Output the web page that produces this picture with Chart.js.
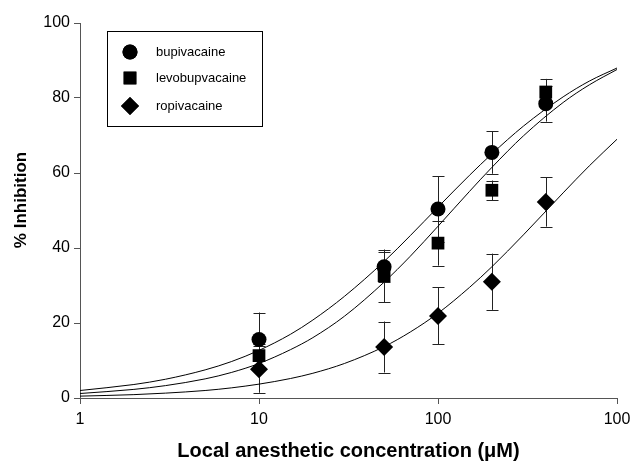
<!DOCTYPE html>
<html>
<head>
<meta charset="utf-8">
<script src="https://cdn.jsdelivr.net/npm/chart.js@4/dist/chart.umd.min.js"></script>
<style>
  html, body { margin: 0; padding: 0; background: #fff; }
  #wrap { width: 633px; height: 463px; }
</style>
</head>
<body>
<div id="wrap"><canvas id="myChart" width="633" height="463"></canvas></div>
<script>
// measured points (uM), mean % inhibition and error bar half-lengths
const concentrations = [10, 50, 100, 200, 400];
const bupivacaine = [15.6, 35.0, 50.4, 65.5, 78.5];
const bupivacaineErr = [7.2, 4.0, 8.8, 5.7, 4.8];
const levobupivacaine = [11.3, 32.6, 41.3, 55.4, 81.6];
const levobupivacaineErr = [3.0, 7.0, 6.0, 2.6, 3.5];
const ropivacaine = [7.7, 13.6, 21.9, 31.0, 52.3];
const ropivacaineErr = [6.3, 6.8, 7.6, 7.5, 6.6];

// fitted curves
const curveX = [1, 2, 3, 5, 7, 10, 15, 20, 30, 50, 70, 100, 150, 200, 300, 500, 700, 1000];
const bupCurve = [2.0, 3.6, 5.0, 7.5, 9.7, 12.7, 17.0, 20.8, 27.1, 36.4, 43.3, 50.9, 59.4, 65.1, 72.5, 80.3, 84.5, 88.0];
const levoCurve = [1.2, 2.3, 3.3, 5.1, 6.8, 9.2, 12.9, 16.1, 21.8, 30.9, 37.8, 45.8, 55.1, 61.5, 69.9, 78.8, 83.5, 87.6];
const ropiCurve = [0.5, 0.9, 1.3, 2.0, 2.7, 3.7, 5.2, 6.6, 9.2, 13.7, 17.6, 22.6, 29.5, 35.0, 43.5, 54.7, 61.9, 69.0];

const xTicks = [1, 10, 100, 1000];
const xTickLabels = ['1', '10', '100', '100'];
const yTicks = [0, 20, 40, 60, 80, 100];

const seriesNames = ['bupivacaine', 'levobupvacaine', 'ropivacaine'];
const yTitle = '% Inhibition';

const FONT = 'Arial, "Liberation Sans", sans-serif';

const pts = (xs, ys) => xs.map((x, i) => ({x: x, y: ys[i]}));

const errors = [bupivacaineErr, levobupivacaineErr, ropivacaineErr];

const errorBars = {
  id: 'errorBars',
  beforeDatasetsDraw(chart) {
    const ctx = chart.ctx;
    const xs = chart.scales.x, ys = chart.scales.y;
    ctx.save();
    ctx.strokeStyle = '#222';
    ctx.lineWidth = 1;
    errors.forEach((errs, d) => {
      const vals = chart.data.datasets[d].data;
      vals.forEach((p, i) => {
        const px = Math.round(xs.getPixelForValue(p.x)) + 0.5;
        const top = ys.getPixelForValue(p.y + errs[i]);
        const bot = ys.getPixelForValue(p.y - errs[i]);
        ctx.beginPath();
        ctx.moveTo(px, top); ctx.lineTo(px, bot);
        ctx.moveTo(px - 6, Math.round(top) + 0.5); ctx.lineTo(px + 6, Math.round(top) + 0.5);
        ctx.moveTo(px - 6, Math.round(bot) + 0.5); ctx.lineTo(px + 6, Math.round(bot) + 0.5);
        ctx.stroke();
      });
    });
    ctx.restore();
  }
};

const legendBox = {
  id: 'legendBox',
  afterDraw(chart) {
    const ctx = chart.ctx;
    ctx.save();
    ctx.strokeStyle = '#000';
    ctx.lineWidth = 1;
    ctx.strokeRect(107.5, 31.5, 155, 95);
    const rowY = [52, 78, 106];
    ctx.font = '13px ' + FONT;
    ctx.fillStyle = '#000';
    ctx.textBaseline = 'middle';
    seriesNames.forEach((name, i) => {
      const ds = chart.data.datasets[i];
      Chart.helpers.drawPoint(ctx, {
        pointStyle: ds.pointStyle, radius: ds.pointRadius, borderWidth: 0, rotation: 0
      }, 130, rowY[i]);
      ctx.fillStyle = '#000';
      ctx.fill();
      ctx.fillText(name, 156, rowY[i]);
    });

    // y axis title
    ctx.translate(21, 200);
    ctx.rotate(-Math.PI / 2);
    ctx.font = 'bold 17px ' + FONT;
    ctx.textAlign = 'center';
    ctx.fillText(yTitle, 0, 0);
    ctx.restore();
  }
};

const markerBase = {
  type: 'scatter', showLine: false, backgroundColor: '#000', borderColor: '#000',
  borderWidth: 0, pointHoverRadius: 0
};
const curveBase = {
  type: 'line', showLine: true, pointRadius: 0, borderColor: '#000', borderWidth: 1,
  cubicInterpolationMode: 'monotone', fill: false
};

const ctx = document.getElementById('myChart').getContext('2d');
const myChart = new Chart(ctx, {
  type: 'scatter',
  data: {
    datasets: [
      Object.assign({}, markerBase, {label: seriesNames[0], data: pts(concentrations, bupivacaine), pointStyle: 'circle', pointRadius: 7.5}),
      Object.assign({}, markerBase, {label: seriesNames[1], data: pts(concentrations, levobupivacaine), pointStyle: 'rect', pointRadius: 9}),
      Object.assign({}, markerBase, {label: seriesNames[2], data: pts(concentrations, ropivacaine), pointStyle: 'rectRot', pointRadius: 9}),
      Object.assign({}, curveBase, {label: 'fit1', data: pts(curveX, bupCurve)}),
      Object.assign({}, curveBase, {label: 'fit2', data: pts(curveX, levoCurve)}),
      Object.assign({}, curveBase, {label: 'fit3', data: pts(curveX, ropiCurve)})
    ]
  },
  options: {
    responsive: false,
    animation: false,
    events: [],
    layout: { padding: { left: 0, right: 16, top: 23, bottom: 0 } },
    plugins: { legend: { display: false }, tooltip: { enabled: false } },
    scales: {
      x: {
        type: 'logarithmic', min: 1, max: 1000,
        afterBuildTicks: (s) => { s.ticks = xTicks.map(v => ({value: v})); },
        afterFit: (s) => { s.height = 65; s.paddingRight = 0; s.paddingLeft = 0; },
        ticks: {
          autoSkip: false, maxRotation: 0, padding: 6, color: '#000',
          font: { family: FONT, size: 16 },
          callback: (v) => xTickLabels[xTicks.indexOf(v)]
        },
        grid: { drawOnChartArea: false, drawTicks: true, tickLength: 6, color: '#555' },
        border: { color: '#555' },
        title: {
          display: true, text: 'Local anesthetic concentration (\u03bcM)', color: '#000',
          font: { family: FONT, size: 20, weight: 'bold' },
          padding: { top: 0, bottom: 0 }
        }
      },
      y: {
        min: 0, max: 100,
        afterBuildTicks: (s) => { s.ticks = yTicks.map(v => ({value: v})); },
        afterFit: (s) => { s.width = 80; },
        ticks: {
          padding: 4, color: '#000',
          font: { family: FONT, size: 16 }
        },
        grid: { drawOnChartArea: false, drawTicks: true, tickLength: 6, color: '#555' },
        border: { color: '#555' },
        title: { display: false }
      }
    }
  },
  plugins: [errorBars, legendBox]
});
</script>
</body>
</html>
